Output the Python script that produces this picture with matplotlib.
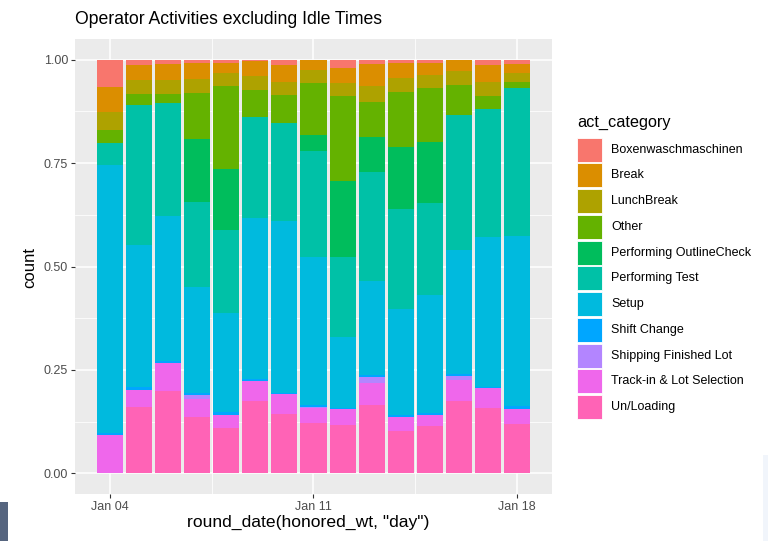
import datetime as dt

import matplotlib
matplotlib.use("Agg")
import matplotlib.pyplot as plt
import matplotlib.dates as mdates
from matplotlib.patches import Rectangle
from matplotlib.ticker import FixedLocator, MultipleLocator
import numpy as np

plt.rcParams["font.family"] = ["Liberation Sans", "DejaVu Sans"]

# ---------------------------------------------------------------------------
# Data (share of activity per day)
# ---------------------------------------------------------------------------
days = [dt.datetime(2021, 1, d) for d in range(4, 19)]

categories = [
    "Boxenwaschmaschinen", "Break", "LunchBreak", "Other",
    "Performing OutlineCheck", "Performing Test", "Setup", "Shift Change",
    "Shipping Finished Lot", "Track-in & Lot Selection", "Un/Loading",
]
colors = [
    "#F8766D", "#DB8E00", "#AEA200", "#64B200", "#00BD5C", "#00C1A7",
    "#00BADE", "#00A6FF", "#B385FF", "#EF67EB", "#FF63B6",
]

boxen = [.066, .014, .010, .009, .009, .004, .014, 0, .020, .010, .009, .008, 0, .014, .010]
brk = [.060, .035, .040, .037, .023, .036, .039, .024, .036, .054, .035, .029, .027, .040, .022]
lunch = [.044, .035, .033, .034, .032, .032, .033, .033, .033, .039, .033, .032, .034, .033, .022]
other = [.031, .026, .022, .112, .201, .067, .066, .126, .204, .084, .133, .131, .072, .031, .014]
outline = [0, 0, 0, .153, .146, 0, 0, .037, .184, .085, .150, .147, 0, 0, 0]
test = [.053, .339, .274, .205, .200, .242, .239, .258, .193, .263, .243, .222, .326, .311, .359]
setup = [.648, .344, .350, .255, .240, .390, .414, .357, .172, .226, .254, .284, .301, .362, .411]
shift = [.0065, .006, .005, .006, .006, .005, .004, .004, .004, .006, .006, .005, .005, .003, .006]
shipping = [0, 0, 0, .010, 0, 0, 0, .004, 0, .015, 0, 0, .009, 0, 0]
track_in = [.092, .042, .066, .044, .032, .047, .048, .035, .038, .053, .034, .028, .051, .048, .036]
un_loading = [0, .161, .200, .135, .110, .175, .143, .122, .117, .164, .102, .114, .174, .157, .120]

series = [boxen, brk, lunch, other, outline, test, setup, shift,
          shipping, track_in, un_loading]

# position = "fill": normalise each day to 1
vals = np.array(series, dtype=float)
vals = vals / vals.sum(axis=0)

W, H = 768, 541


def fx(px):
    return px / W


def fy(py):
    return 1 - py / H


fig = plt.figure(figsize=(W / 100, H / 100), dpi=100)
ax = fig.add_axes([fx(75), fy(494), fx(552) - fx(75), fy(39) - fy(494)])
ax.set_facecolor("#EBEBEB")
for s in ax.spines.values():
    s.set_visible(False)

x = mdates.date2num(days)
bottom = np.zeros(len(days))
# ggplot stacks the first level on top -> draw from the last level upward
for i in range(len(categories) - 1, -1, -1):
    ax.bar(x, vals[i], width=0.9, bottom=bottom, color=colors[i],
           linewidth=0, zorder=3)
    bottom += vals[i]

lo, hi = x[0] - 0.45, x[-1] + 0.45
pad = (hi - lo) * 0.05
ax.set_xlim(lo - pad, hi + pad)
ax.set_ylim(-0.05, 1.05)

major_x = mdates.date2num([dt.datetime(2021, 1, 4), dt.datetime(2021, 1, 11),
                           dt.datetime(2021, 1, 18)])
ax.xaxis.set_major_locator(FixedLocator(major_x))
ax.xaxis.set_minor_locator(FixedLocator([major_x[0] - 3.5, major_x[0] + 3.5,
                                         major_x[1] + 3.5, major_x[2] + 3.5]))
ax.xaxis.set_major_formatter(mdates.DateFormatter("%b %d"))
ax.yaxis.set_major_locator(MultipleLocator(0.25))
ax.yaxis.set_minor_locator(MultipleLocator(0.125))
ax.yaxis.set_major_formatter(matplotlib.ticker.FormatStrFormatter("%.2f"))

ax.grid(which="major", color="white", linewidth=1.1, zorder=1)
ax.grid(which="minor", color="white", linewidth=0.55, zorder=1)
ax.set_axisbelow(True)
ax.tick_params(which="major", length=3, width=0.8, color="#333333",
               labelcolor="#4D4D4D", labelsize=9, pad=2)
ax.tick_params(which="minor", length=0)

fig.text(fx(75), fy(20), "Operator Activities excluding Idle Times",
         fontsize=12.7, color="black", ha="left", va="center")
fig.text(fx(308), fy(522), 'round_date(honored_wt, "day")',
         fontsize=12.6, color="black", ha="center", va="center")
fig.text(fx(30), fy(267), "count", fontsize=12, color="black",
         ha="center", va="center", rotation=90)

# Legend, drawn by hand to match ggplot's keys
fig.text(fx(577), fy(122), "act_category", fontsize=11.7,
         ha="left", va="center")
pitch = 25.76
for i, (lab, col) in enumerate(zip(categories, colors)):
    top = 136.7 + pitch * i
    fig.patches.append(Rectangle((fx(577), fy(top + pitch - 0.8)),
                                 fx(602) - fx(577), (pitch - 1.6) / H,
                                 transform=fig.transFigure, facecolor=col,
                                 edgecolor="white", linewidth=0.6))
    fig.text(fx(611), fy(top + pitch / 2), lab, fontsize=9,
             ha="left", va="center", color="black")

# screenshot edges
fig.patches.append(Rectangle((0, 0), fx(8), 39 / H, transform=fig.transFigure,
                             facecolor="#56657F", edgecolor="none"))
fig.patches.append(Rectangle((fx(763), 0), fx(5), 86 / H,
                             transform=fig.transFigure,
                             facecolor="#F1F5FB", edgecolor="none"))

fig.savefig("out.png", dpi=100)
